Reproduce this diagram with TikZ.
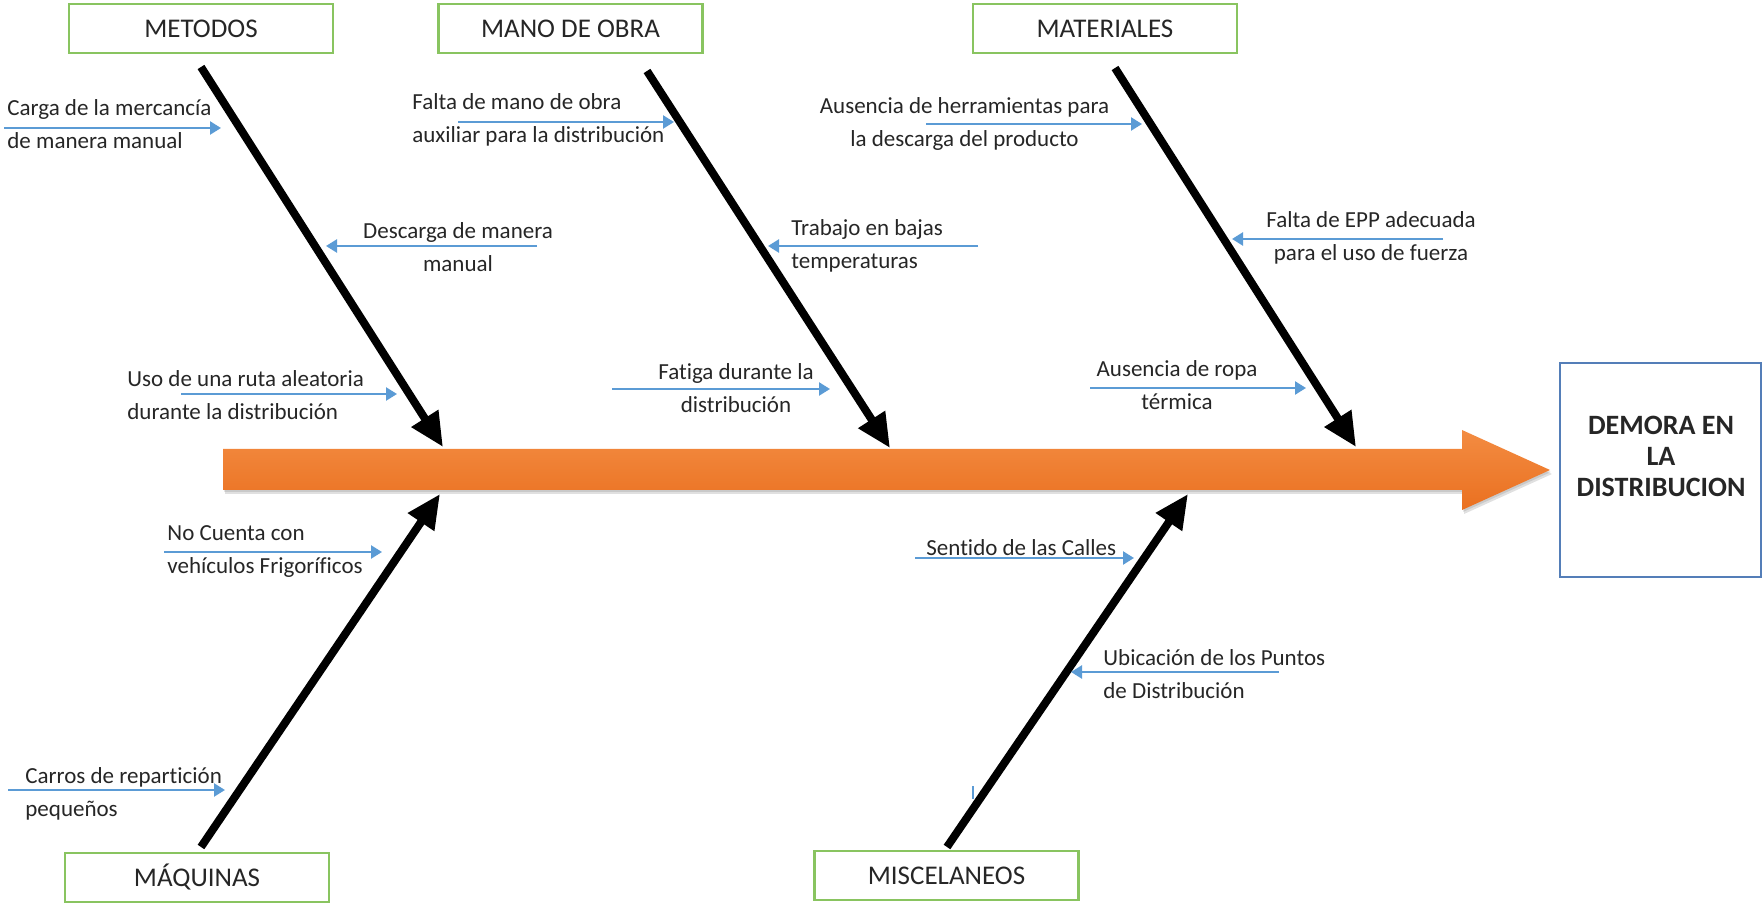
\documentclass[tikz,border=0pt]{standalone}
\usepackage{fontspec}
\setmainfont{Carlito}[Ligatures={NoCommon}]
\usetikzlibrary{arrows.meta}
\definecolor{boxgreen}{RGB}{137,196,96}
\definecolor{causeblue}{RGB}{91,155,213}
\definecolor{effblue}{RGB}{84,126,184}
\definecolor{orangeTop}{RGB}{243,140,66}
\definecolor{orangeBot}{RGB}{234,112,32}
\definecolor{txt}{RGB}{38,38,38}
\begin{document}
\begin{tikzpicture}[x=0.5pt,y=-0.5pt,
  catbox/.style={draw=boxgreen, line width=1.1pt, minimum width=132pt, minimum height=24.5pt, inner sep=0pt, font=\fontsize{13.5}{16}\selectfont, text=txt},
  bone/.style={line width=4pt, -{Triangle[length=17pt,width=15pt]}},
  cause/.style={causeblue, line width=1.2pt, -{Triangle[length=5.5pt,width=6.5pt]}},
  ctext/.style={font=\fontsize{11.5}{16.5}\selectfont, text=txt, inner sep=0pt},
  ltext/.style={ctext, align=left, anchor=west},
  mtext/.style={ctext, align=center},
]
\useasboundingbox (0,0) rectangle (1762,903);

% category boxes
\node[catbox] (metodos) at (201,28.5) {METODOS};
\node[catbox] (mano) at (570.5,28.5) {MANO DE OBRA};
\node[catbox] (materiales) at (1105,28.5) {MATERIALES};
\node[catbox] (maquinas) at (197,877.5) {MÁQUINAS};
\node[catbox] (misc) at (946.5,875.5) {MISCELANEOS};

% effect box
\node[draw=effblue, line width=0.8pt, minimum width=100.5pt, minimum height=107pt, inner sep=0pt] (efecto) at (1660.5,470) {};
\node[font=\fontsize{14}{15.5}\selectfont\bfseries, text=txt, align=center, inner sep=0pt] (efectotxt) at (1661,456) {DEMORA EN\\LA\\DISTRIBUCION};

% spine (orange arrow) with soft shadow
\fill[black, opacity=0.12] (225,453) -- (1464,453) -- (1464,434) -- (1552,474) -- (1464,514) -- (1464,494) -- (225,494) -- cycle;
\fill[black, opacity=0.10] (224,451) -- (1463,451) -- (1463,432) -- (1551,472) -- (1463,512) -- (1463,492) -- (224,492) -- cycle;
\shade[top color=orangeTop, bottom color=orangeBot] (223,449) -- (1462,449) -- (1462,430) -- (1550,470) -- (1462,510) -- (1462,490) -- (223,490) -- cycle;

% bones
\coordinate (b1s) at (201,67);   \coordinate (b1e) at (443,447);
\coordinate (b2s) at (647,71);   \coordinate (b2e) at (890,448);
\coordinate (b3s) at (1115,68);  \coordinate (b3e) at (1356,447);
\coordinate (b4s) at (201,847);  \coordinate (b4e) at (440,494);
\coordinate (b5s) at (947,847);  \coordinate (b5e) at (1188,494);
\draw[bone] (b1s) -- (b1e);
\draw[bone] (b2s) -- (b2e);
\draw[bone] (b3s) -- (b3e);
\draw[bone] (b4s) -- (b4e);
\draw[bone] (b5s) -- (b5e);

% cause arrows
\coordinate (c1s) at (4,128);     \coordinate (c1e) at (221,128);
\coordinate (c2s) at (537,246);   \coordinate (c2e) at (326,246);
\coordinate (c3s) at (181,394);   \coordinate (c3e) at (397,394);
\coordinate (c4s) at (458,122);   \coordinate (c4e) at (674,122);
\coordinate (c5s) at (978,246);   \coordinate (c5e) at (768,246);
\coordinate (c6s) at (612,389);   \coordinate (c6e) at (830,389);
\coordinate (c7s) at (926,124);   \coordinate (c7e) at (1142,124);
\coordinate (c8s) at (1443,239);  \coordinate (c8e) at (1232,239);
\coordinate (c9s) at (1090,388);  \coordinate (c9e) at (1306,388);
\coordinate (c10s) at (164,552);  \coordinate (c10e) at (382,552);
\coordinate (c11s) at (8,790);    \coordinate (c11e) at (225,790);
\coordinate (c12s) at (915,558);  \coordinate (c12e) at (1134,558);
\coordinate (c13s) at (1279,672); \coordinate (c13e) at (1071,672);
\coordinate (c14s) at (973,786);  \coordinate (c14e) at (973,799);
\foreach \i in {1,...,13} {\draw[cause] (c\i s) -- (c\i e);}
\draw[causeblue, line width=1.2pt] (c14s) -- (c14e);

% cause texts
\node[ltext] (t1) at (7,124.5) {Carga de la mercancía\\de manera manual};
\node[mtext] (t2) at (458,247.5) {Descarga de manera\\manual};
\node[ltext] (t3) at (127,395) {Uso de una ruta aleatoria\\durante la distribución};
\node[ltext] (t4) at (412,120) {Falta de mano de obra\\auxiliar para la distribución};
\node[ltext] (t5) at (791,245.5) {Trabajo en bajas\\temperaturas};
\node[mtext] (t6) at (736,388) {Fatiga durante la\\distribución};
\node[mtext] (t7) at (964.5,123.5) {Ausencia de herramientas para\\la descarga del producto};
\node[mtext] (t8) at (1371,238) {Falta de EPP adecuada\\para el uso de fuerza};
\node[mtext] (t9) at (1177,385) {Ausencia de ropa\\térmica};
\node[ltext] (t10) at (167,552) {No Cuenta con\\vehículos Frigoríficos};
\node[ltext] (t11) at (25,794) {Carros de repartición\\pequeños};
\node[ltext] (t12) at (926,548) {Sentido de las Calles};
\node[ltext] (t13) at (1103,674) {Ubicación de los Puntos\\de Distribución};
\end{tikzpicture}
\end{document}
